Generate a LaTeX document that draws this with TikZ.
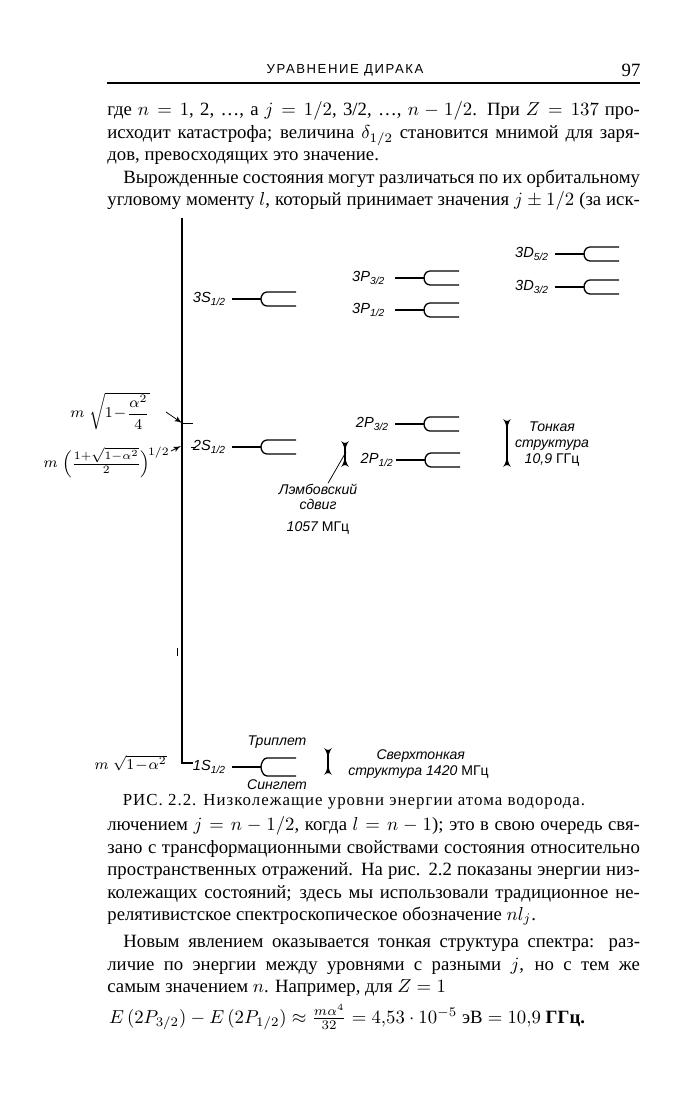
\documentclass[tikz,border=0pt]{standalone}
\usepackage{amsmath}
\usepackage{fontspec}
\setmainfont{Liberation Serif}
\setsansfont{Liberation Sans}
\newfontfamily\headfont[LetterSpace=12]{Liberation Sans}
\newfontfamily\capfont[LetterSpace=6]{Liberation Serif}
\usetikzlibrary{arrows,positioning}

\newcommand{\term}[2]{#1\textsubscript{#2}}
\newcommand{\jline}[2][284pt]{\makebox[#1][s]{#2}}
\newcommand{\fork}[2]{% stem and prongs from level coordinate #1
  \begin{scope}[shift={(#1)}]
    \draw[stem] (0,0) -- (29,0);
    \draw[prong] (64,-#2) -- (35,-#2) .. controls (31,-#2) and (29,-3) .. (29,0)
      .. controls (29,3) and (31,#2) .. (35,#2) -- (64,#2);
  \end{scope}}

\begin{document}
\begin{tikzpicture}[x=0.5333pt,y=-0.5333pt]
\tikzset{bodyline/.style={anchor=base west,inner sep=0pt,font=\fontsize{10}{12}\selectfont}}
\tikzset{lvl/.style={inner sep=1pt,font=\fontsize{7.8}{9}\sffamily\itshape}}
\tikzset{note/.style={inner sep=0pt,align=center,font=\fontsize{7.5}{8.5}\sffamily\itshape}}
\tikzset{rest/.style={inner sep=0pt,font=\fontsize{8}{10}\selectfont}}
\tikzset{stem/.style={line width=1.3pt}}
\tikzset{prong/.style={line width=0.7pt}}
\tikzset{axis/.style={line width=1.1pt}}
\tikzset{gap/.style={line width=0.9pt,latex' reversed-latex' reversed}}
\tikzset{pointer/.style={->,>=latex',line width=0.4pt}}
\useasboundingbox (0,0) rectangle (685,1100);

% running head
\node[inner sep=0pt,font=\fontsize{7}{8}\headfont] (head) at (345,70) {УРАВНЕНИЕ ДИРАКА};
\node[inner sep=0pt,font=\fontsize{10}{12}\selectfont] (page) at (631,70) {97};
\coordinate (rl) at (107,83);
\coordinate (rr) at (640,83);
\draw[line width=0.6pt] (rl) -- (rr);

% text above the figure
\node[bodyline] (l1) at (107,116) {\jline{где $n=1$, 2, \ldots, а $j=1/2$, 3/2, \ldots, $n-1/2$. При $Z=137$ про-}};
\node[bodyline] (l2) at (107,139) {\jline{исходит катастрофа; величина $\delta_{1/2}$ становится мнимой для заря-}};
\node[bodyline] (l3) at (107,161) {дов, превосходящих это значение.};
\node[bodyline] (l4) at (123,184) {\jline[275.5pt]{Вырожденные состояния могут различаться по их орбитальному}};
\node[bodyline] (l5) at (107,206) {\jline{угловому моменту $l$, который принимает значения $j\pm1/2$ (за иск-}};

% energy axis
\coordinate (top) at (182,218);
\coordinate (corner) at (182,763);
\coordinate (foot) at (193,763);
\draw[axis] (top) -- (corner) -- (foot);
\coordinate (m1) at (177,648);
\draw[line width=0.5pt] (m1) -- ++(0,8);

% levels
\coordinate (s3) at (232,299);
\coordinate (s2) at (232,447);
\coordinate (s1) at (232,767);
\coordinate (p33) at (395,278);
\coordinate (p31) at (395,310);
\coordinate (p23) at (395,424);
\coordinate (p21) at (396,460);
\coordinate (d35) at (555,254);
\coordinate (d33) at (555,287);

\node[lvl,left=2pt of s3] (s3l) {\term{3S}{1/2}};
\node[lvl,left=2pt of s2] (s2l) {\term{2S}{1/2}};
\node[lvl,left=2pt of s1] (s1l) {\term{1S}{1/2}};
\node[lvl,left=4pt of p33] (p33l) {\term{3P}{3/2}};
\node[lvl,left=4pt of p31] (p31l) {\term{3P}{1/2}};
\node[lvl,left=2pt of p23] (p23l) {\term{2P}{3/2}};
\node[lvl,left=0pt of p21] (p21l) {\term{2P}{1/2}};
\node[lvl,left=2pt of d35] (d35l) {\term{3D}{5/2}};
\node[lvl,left=2pt of d33] (d33l) {\term{3D}{3/2}};

\fork{s3}{7}
\fork{s2}{7}
\fork{s1}{9}
\fork{p33}{7}
\fork{p31}{7}
\fork{p23}{7}
\fork{p21}{7}
\fork{d35}{7}
\fork{d33}{7}

% rest energies on the axis
\node[rest,anchor=east] (f1) at (150,411) {$m\;\sqrt{1\!-\!\dfrac{\alpha^2}{4}}$};
\node[rest,anchor=east] (f2) at (170,462) {$m\;\Bigl(\frac{1+\sqrt{1-\alpha^2}}{2}\Bigr)^{\!1/2}$};
\node[rest,anchor=east] (f3) at (167,763) {$m\;\sqrt{1\!-\!\alpha^2}$};
\coordinate (t1) at (182,423);
\coordinate (a1) at (166,412);
\coordinate (a2) at (171,451);
\coordinate (t2) at (181,446);
\draw[line width=0.5pt] (t1) -- ++(11,0);
\draw[line width=0.5pt] (191,447) -- (196,447);
\draw[pointer] (a1) -- (t1);
\draw[pointer] (a2) -- (t2);

% Lamb shift
\coordinate (lt) at (345,441);
\coordinate (lb) at (345,467);
\draw[gap] (lt) -- (lb);
\coordinate (lm) at (346,452);
\node[note] (lamb) at (318,509) {Лэмбовский\\сдвиг\\[3pt]1057 \upshape МГц};
\draw[line width=0.4pt] (lm) -- (lamb.north -| 328,0);

% fine structure
\coordinate (ft) at (507,419);
\coordinate (fb) at (507,467);
\draw[gap] (ft) -- (fb);
\node[note] (fine) at (552,444) {Тонкая\\структура\\10,9 \upshape ГГц};

% hyperfine structure
\coordinate (ht) at (328,748);
\coordinate (hb) at (328,775);
\draw[gap] (ht) -- (hb);
\node[note] (trip) at (277,742) {Триплет};
\node[note] (sing) at (277,785) {Синглет};
\node[note,anchor=west,align=left] (hyp) at (348,764) {\hspace*{15pt}Сверхтонкая\\структура 1420 \upshape МГц};

% caption
\node[inner sep=0pt,font=\fontsize{9}{11}\capfont] (cap) at (354,802) {РИС. 2.2. Низколежащие уровни энергии атома водорода.};

% text below the figure
\node[bodyline] (l6) at (107,830) {\jline{лючением $j=n-1/2$, когда $l=n-1$); это в свою очередь свя-}};
\node[bodyline] (l7) at (107,853) {\jline{зано с трансформационными свойствами состояния относительно}};
\node[bodyline] (l8) at (107,875) {\jline{пространственных отражений. На рис. 2.2 показаны энергии низ-}};
\node[bodyline] (l9) at (107,898) {\jline{колежащих состояний; здесь мы использовали традиционное не-}};
\node[bodyline] (l10) at (107,920) {релятивистское спектроскопическое обозначение $nl_j$.};
\node[bodyline] (l11) at (123,947) {\jline[275.5pt]{Новым явлением оказывается тонкая структура спектра: раз-}};
\node[bodyline] (l12) at (107,970) {\jline{личие по энергии между уровнями с разными $j$, но с тем же}};
\node[bodyline] (l13) at (107,992) {самым значением $n$. Например, для $Z=1$};
\node[inner sep=0pt,font=\fontsize{10}{12}\selectfont] (eq) at (347,1017)
  {$E\,(2P_{3/2})-E\,(2P_{1/2})\approx\frac{m\alpha^4}{32}=4{,}53\cdot10^{-5}$ эВ${}=10{,}9$ \textbf{ГГц.}};
\end{tikzpicture}
\end{document}
